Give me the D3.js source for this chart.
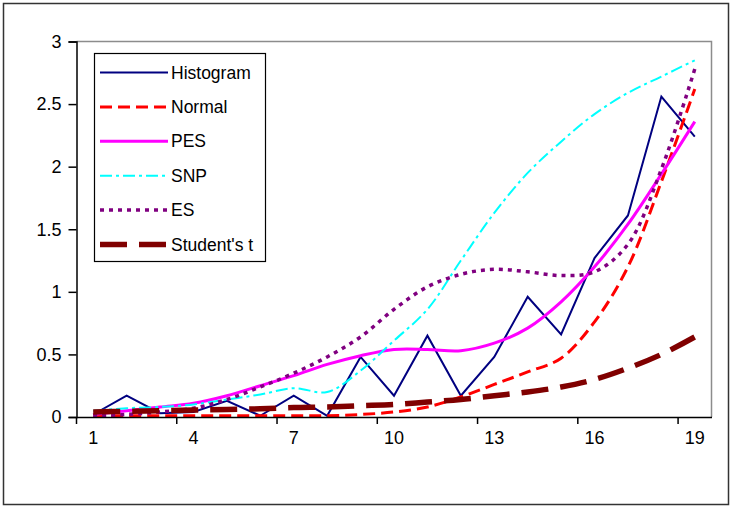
<!DOCTYPE html>
<html>
<head>
<meta charset="utf-8">
<script src="https://cdn.jsdelivr.net/npm/d3@7/dist/d3.min.js"></script>
<style>
  html, body { margin: 0; padding: 0; background: #fff; }
  svg { display: block; font-family: "Liberation Sans", Arial, sans-serif; }
</style>
</head>
<body>
<svg id="chart" width="732" height="507"></svg>
<script>
// Category positions along the x axis
const categories = [1, 2, 3, 4, 5, 6, 7, 8, 9, 10, 11, 12, 13, 14, 15, 16, 17, 18, 19];
const xTickLabels = [1, 4, 7, 10, 13, 16, 19];
const yTicks = [0, 0.5, 1, 1.5, 2, 2.5, 3];

// Series values, one per category
const histogram = [0.02, 0.17, 0.03, 0.04, 0.13, 0.01, 0.17, 0.01, 0.48, 0.17, 0.65, 0.17, 0.48, 0.96, 0.66, 1.27, 1.61, 2.56, 2.24];
const normal    = [0.01, 0.01, 0.01, 0.01, 0.01, 0.01, 0.01, 0.01, 0.02, 0.04, 0.08, 0.16, 0.26, 0.36, 0.47, 0.76, 1.2, 1.88, 2.62];
const pes       = [0.02, 0.05, 0.08, 0.11, 0.17, 0.25, 0.33, 0.42, 0.49, 0.54, 0.54, 0.53, 0.59, 0.71, 0.92, 1.2, 1.54, 1.94, 2.36];
const snp       = [0.05, 0.07, 0.08, 0.1, 0.14, 0.18, 0.23, 0.2, 0.37, 0.61, 0.86, 1.25, 1.63, 1.95, 2.2, 2.42, 2.59, 2.72, 2.85];
const es        = [0.01, 0.02, 0.04, 0.07, 0.14, 0.24, 0.35, 0.48, 0.64, 0.86, 1.04, 1.14, 1.18, 1.16, 1.13, 1.16, 1.38, 1.98, 2.78];
const studentT  = [0.04, 0.045, 0.05, 0.055, 0.06, 0.065, 0.075, 0.08, 0.09, 0.1, 0.12, 0.14, 0.17, 0.2, 0.24, 0.3, 0.39, 0.5, 0.64];

const seriesNames = ["Histogram", "Normal", "PES", "SNP", "ES", "Student's t"];
const seriesValues = [histogram, normal, pes, snp, es, studentT];

const styles = {
  "Histogram":   { color: "#000080", width: 2,   dash: null,          smooth: false },
  "Normal":      { color: "#ff0000", width: 3,   dash: "12,6",        smooth: true },
  "PES":         { color: "#ff00ff", width: 3,   dash: null,          smooth: true },
  "SNP":         { color: "#00ffff", width: 2,   dash: "12,4,3,4",    smooth: true },
  "ES":          { color: "#800080", width: 3.5, dash: "4,5",         smooth: true },
  "Student's t": { color: "#800000", width: 5.5, dash: "27,12",       smooth: true }
};

const svg = d3.select("#chart");

// Outer chart frame
svg.append("rect")
  .attr("x", 3.5).attr("y", 3.5).attr("width", 725).attr("height", 501)
  .attr("fill", "#fff").attr("stroke", "#333").attr("stroke-width", 1.5);

const plot = { left: 76.5, right: 711.5, top: 41.5, bottom: 417 };

const x = d3.scaleBand().domain(categories).range([plot.left, plot.right]).padding(0);
const y = d3.scaleLinear().domain([0, 3]).range([plot.bottom, plot.top]);

// Plot area border (top and right sides)
svg.append("path")
  .attr("d", `M${plot.left},${plot.top}H${plot.right}V${plot.bottom}`)
  .attr("fill", "none").attr("stroke", "#8c8c8c").attr("stroke-width", 1.5);

// Series lines
const g = svg.append("g");
seriesNames.forEach((name, si) => {
  const st = styles[name];
  const line = d3.line()
    .x((d, i) => x(categories[i]) + x.bandwidth() / 2)
    .y(d => y(d))
    .curve(st.smooth ? d3.curveCatmullRom.alpha(0.5) : d3.curveLinear);
  g.append("path")
    .datum(seriesValues[si])
    .attr("d", line)
    .attr("fill", "none")
    .attr("stroke", st.color)
    .attr("stroke-width", st.width)
    .attr("stroke-dasharray", st.dash)
    .attr("stroke-linejoin", "miter");
});

// Y axis
const yAxis = svg.append("g")
  .attr("transform", `translate(${plot.left},0)`)
  .call(d3.axisLeft(y).tickValues(yTicks).tickSize(8).tickPadding(7).tickFormat(d => String(d)));
yAxis.select(".domain").attr("stroke", "#000").attr("stroke-width", 1.5);
yAxis.selectAll(".tick line").attr("stroke", "#000").attr("stroke-width", 1.5);
yAxis.selectAll("text").attr("font-size", 18).attr("fill", "#000")
  .attr("font-family", "Liberation Sans, Arial, sans-serif");

// X axis: baseline, tick marks between category groups, labels at category centres
const xAxis = svg.append("g")
  .attr("transform", `translate(0,${plot.bottom})`)
  .call(d3.axisBottom(x).tickValues(xTickLabels).tickSize(0).tickPadding(14));
xAxis.select(".domain").attr("stroke", "#000").attr("stroke-width", 1.5);
xAxis.selectAll("text").attr("font-size", 18).attr("fill", "#000")
  .attr("font-family", "Liberation Sans, Arial, sans-serif");
xAxis.selectAll(".tickmark")
  .data(xTickLabels)
  .join("line")
  .attr("class", "tickmark")
  .attr("x1", d => x(d)).attr("x2", d => x(d))
  .attr("y1", 0).attr("y2", 7)
  .attr("stroke", "#000").attr("stroke-width", 1.5);

// Legend
const legend = svg.append("g");
legend.append("rect")
  .attr("x", 94.5).attr("y", 53.5).attr("width", 171).attr("height", 208)
  .attr("fill", "#fff").attr("stroke", "#000").attr("stroke-width", 1.2);
seriesNames.forEach((name, i) => {
  const st = styles[name];
  const cy = 72.5 + i * 34.4;
  legend.append("line")
    .attr("x1", 100).attr("x2", 168).attr("y1", cy).attr("y2", cy)
    .attr("stroke", st.color).attr("stroke-width", st.width)
    .attr("stroke-dasharray", st.dash);
  legend.append("text")
    .attr("x", 171).attr("y", cy).attr("dy", "0.35em")
    .attr("font-size", 17.5).attr("fill", "#000")
    .text(name);
});
</script>
</body>
</html>
